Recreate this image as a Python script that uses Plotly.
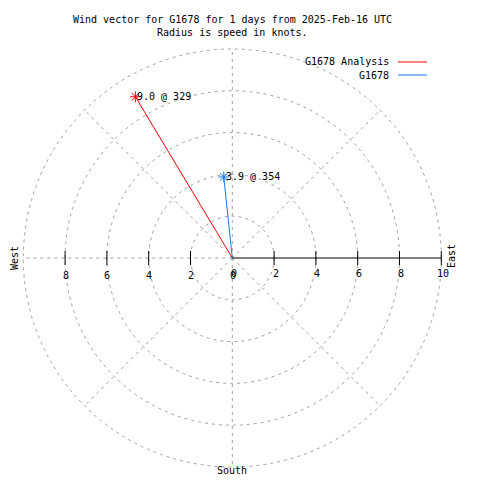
import math
import plotly.graph_objects as go

# ---- data ----
series_names = ["G1678 Analysis", "G1678"]
speeds = [9.0, 3.9]          # knots
directions = [329, 354]      # degrees, clockwise from north
series_colors = ["#ff0000", "#1478ec"]
ring_radii = [2, 4, 6, 8, 10]
spoke_angles = [0, 45, 90, 135, 180, 225, 270, 315]
right_ticks = [0, 2, 4, 6, 8, 10]
left_ticks = [8, 6, 4, 2, 0]
title_lines = ["Wind vector for G1678 for 1 days from 2025-Feb-16 UTC",
               "Radius is speed in knots."]

FONT = "DejaVu Sans Mono"
W = H = 480
cx, cy, s = 232.3, 258.0, 20.9   # pixel centre and pixels per knot
GRID = "#a0a0a0"
DASH = "3px,4px"

fig = go.Figure()
shapes = []
annotations = []

# rings
for r in ring_radii:
    shapes.append(dict(type="circle", xref="x", yref="y", x0=-r, x1=r, y0=-r, y1=r,
                       line=dict(color=GRID, width=1, dash=DASH), layer="below"))
# spokes
rmax = max(ring_radii)
for a in spoke_angles:
    if a == 90:
        continue
    t = math.radians(a)
    shapes.append(dict(type="line", xref="x", yref="y", x0=0, y0=0,
                       x1=rmax * math.sin(t), y1=rmax * math.cos(t),
                       line=dict(color=GRID, width=1, dash=DASH), layer="below"))
# east solid axis
shapes.append(dict(type="line", xref="x", yref="y", x0=0, y0=0, x1=rmax, y1=0,
                   line=dict(color="black", width=1)))

# tick marks
tick_x = [t for t in right_ticks if t > 0] + [-t for t in left_ticks if t > 0]
fig.add_trace(go.Scatter(x=tick_x, y=[0] * len(tick_x), mode="markers",
                         marker=dict(symbol="line-ns-open", size=10, color="black",
                                     line=dict(color="black", width=1)),
                         hoverinfo="skip", showlegend=False))

# tick labels
for t in right_ticks:
    annotations.append(dict(x=t, y=0, xref="x", yref="y", text=str(t), showarrow=False,
                            xanchor="center", yanchor="middle", xshift=1.5, yshift=-15,
                            font=dict(family=FONT, size=10, color="black")))
for t in left_ticks:
    annotations.append(dict(x=-t, y=0, xref="x", yref="y", text=str(t), showarrow=False,
                            xanchor="center", yanchor="middle", xshift=0.5, yshift=-17,
                            font=dict(family=FONT, size=10, color="black")))

# vectors
for name, spd, d, col in zip(series_names, speeds, directions, series_colors):
    t = math.radians(d)
    ex, ey = spd * math.sin(t), spd * math.cos(t)
    fig.add_trace(go.Scatter(x=[0, ex], y=[0, ey], mode="lines",
                             line=dict(color=col, width=1), name=name,
                             showlegend=False, hoverinfo="skip"))
    fig.add_trace(go.Scatter(x=[ex], y=[ey], mode="markers",
                             marker=dict(symbol="asterisk-open", size=9, color=col,
                                         line=dict(color=col, width=1)),
                             showlegend=False, hoverinfo="skip"))
    annotations.append(dict(x=ex, y=ey, xref="x", yref="y", text=f"{spd:.1f} @ {d}",
                            showarrow=False, xanchor="left", yanchor="middle",
                            xshift=0, yshift=0,
                            font=dict(family=FONT, size=10, color="black")))

def px(xp):
    return xp / W

def py(yp):
    return 1 - yp / H

# titles
for i, line in enumerate(title_lines):
    annotations.append(dict(x=px(232), y=py(20 + 13 * i), xref="paper", yref="paper",
                            text=line, showarrow=False, xanchor="center", yanchor="middle",
                            font=dict(family=FONT, size=10, color="black")))

# legend (custom: text then line sample)
for i, (name, col) in enumerate(zip(series_names, series_colors)):
    yy = 62 + 13 * i
    annotations.append(dict(x=px(391), y=py(yy), xref="paper", yref="paper", text=name,
                            showarrow=False, xanchor="right", yanchor="middle",
                            font=dict(family=FONT, size=10, color="black")))
    shapes.append(dict(type="line", xref="paper", yref="paper",
                       x0=px(398), x1=px(427), y0=py(yy), y1=py(yy),
                       line=dict(color=col, width=1)))

# compass labels
annotations.append(dict(x=px(14), y=py(258), xref="paper", yref="paper", text="West",
                        showarrow=False, textangle=-90, xanchor="center", yanchor="middle",
                        font=dict(family=FONT, size=10, color="black")))
annotations.append(dict(x=px(451), y=py(256), xref="paper", yref="paper", text="East",
                        showarrow=False, textangle=-90, xanchor="center", yanchor="middle",
                        font=dict(family=FONT, size=10, color="black")))
annotations.append(dict(x=px(232), y=py(470), xref="paper", yref="paper", text="South",
                        showarrow=False, xanchor="center", yanchor="middle",
                        font=dict(family=FONT, size=10, color="black")))

fig.update_layout(
    width=W, height=H, margin=dict(l=0, r=0, t=0, b=0),
    paper_bgcolor="white", plot_bgcolor="white",
    xaxis=dict(range=[(0 - cx) / s, (W - cx) / s], visible=False, fixedrange=True),
    yaxis=dict(range=[(cy - H) / s, cy / s], visible=False, fixedrange=True),
    shapes=shapes, annotations=annotations, showlegend=False,
)

fig.write_html("out.html", config={"displayModeBar": False},
               post_script="document.body.style.margin='0';")
